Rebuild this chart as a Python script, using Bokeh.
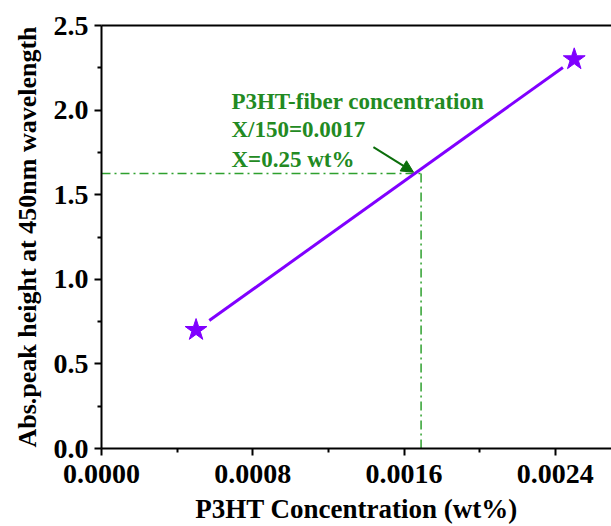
from bokeh.plotting import figure
from bokeh.models import (FixedTicker, Range1d, LinearAxis, Arrow, NormalHead,
                          NumeralTickFormatter)
from bokeh.core.properties import value
from bokeh.embed import file_html
from bokeh.resources import INLINE

# ---- data ----
conc = [0.0005, 0.0025]          # P3HT concentration (wt%)
absorb = [0.7, 2.3]              # abs. peak height at 450 nm
fit_x = [0.00057, 0.00244]
fit_y = [0.756, 2.252]
cross_x = 0.00169
cross_y = 1.625
x_ticks = [0.0, 0.0008, 0.0016, 0.0024]
x_minor = [0.0004, 0.0012, 0.0020]
y_ticks = [0.0, 0.5, 1.0, 1.5, 2.0, 2.5]
y_minor = [0.25, 0.75, 1.25, 1.75, 2.25]
note_lines = ["P3HT-fiber concentration", "X/150=0.0017", "X=0.25 wt%"]
note_x = [0.000687, 0.000687, 0.000687]
note_y = [2.05, 1.885, 1.71]
arrow_start = (0.001438, 1.781)
arrow_end = (0.00165, 1.633)

FONT = "Liberation Serif"
PURPLE = "#8000ff"
GREEN = "#2ea02e"

p = figure(width=611, height=526, output_backend="svg", toolbar_location=None,
           x_range=Range1d(0, 0.002697), y_range=Range1d(0, 2.5),
           min_border_left=101, min_border_right=0, min_border_top=25,
           min_border_bottom=77, outline_line_color=None,
           background_fill_color="white", border_fill_color="white")
p.grid.visible = False

# axes styling
for ax in (p.xaxis[0], p.yaxis[0]):
    ax.axis_line_width = 2
    ax.major_tick_line_width = 2
    ax.minor_tick_line_width = 2
    ax.major_tick_out = 7
    ax.major_tick_in = 0
    ax.minor_tick_out = 4
    ax.minor_tick_in = 0
    ax.major_label_text_font = FONT
    ax.major_label_text_font_style = "bold"
    ax.major_label_text_font_size = "28px"
    ax.major_label_text_color = "black"
    ax.axis_label_text_font = FONT
    ax.axis_label_text_font_style = "bold"
    ax.axis_label_text_color = "black"

p.xaxis[0].ticker = FixedTicker(ticks=x_ticks, minor_ticks=x_minor)
p.yaxis[0].ticker = FixedTicker(ticks=y_ticks, minor_ticks=y_minor)
p.xaxis[0].formatter = NumeralTickFormatter(format="0.0000")
p.yaxis[0].formatter = NumeralTickFormatter(format="0.0")
p.xaxis[0].axis_label = "P3HT Concentration (wt%)"
p.yaxis[0].axis_label = "Abs.peak height at 450nm wavelength"
p.xaxis[0].axis_label_text_font_size = "27px"
p.yaxis[0].axis_label_text_font_size = "26px"
p.xaxis[0].major_label_standoff = 9
p.xaxis[0].axis_label_standoff = 8
p.yaxis[0].major_label_standoff = 6
p.yaxis[0].axis_label_standoff = 9

top = LinearAxis(ticker=FixedTicker(ticks=[]), major_label_text_font_size="0px",
                 major_tick_out=0, minor_tick_out=0, major_label_standoff=0,
                 axis_line_width=2)
p.add_layout(top, "above")

# guide lines
p.line([0, cross_x], [cross_y, cross_y], line_color=GREEN, line_width=1.5,
       line_dash="9 4 2 4")
p.line([cross_x, cross_x], [0, cross_y], line_color=GREEN, line_width=1.5,
       line_dash="9 4 2 4")

# fit line and points
p.line(fit_x, fit_y, line_color=PURPLE, line_width=3)
p.scatter(conc, absorb, marker="star", size=23, fill_color=PURPLE,
          line_color=PURPLE)

# annotation
p.text(x=note_x, y=note_y, text=note_lines, text_font=value(FONT),
       text_font_style="bold", text_font_size="23px", text_color="#228a22",
       text_baseline="alphabetic", text_align="left")
p.add_layout(Arrow(end=NormalHead(size=12, fill_color="#0b6e0b",
                                  line_color="#0b6e0b"),
                   x_start=arrow_start[0], y_start=arrow_start[1],
                   x_end=arrow_end[0], y_end=arrow_end[1],
                   line_color="#0b6e0b", line_width=2))

open("out.html", "w").write(file_html(p, INLINE))
